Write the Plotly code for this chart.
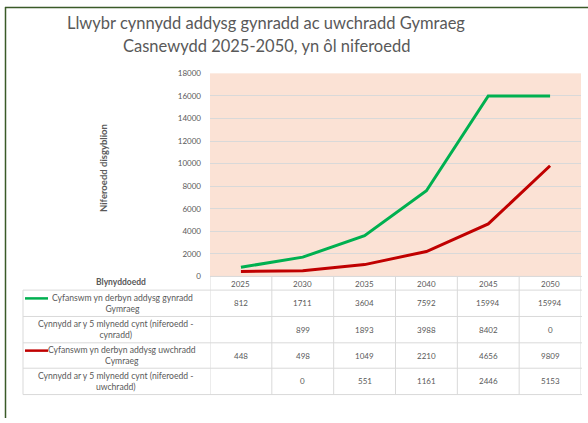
import plotly.graph_objects as go

# ---- data ----
years = ["2025", "2030", "2035", "2040", "2045", "2050"]
primary_total = [812, 1711, 3604, 7592, 15994, 15994]
primary_growth = [None, 899, 1893, 3988, 8402, 0]
secondary_total = [448, 498, 1049, 2210, 4656, 9809]
secondary_growth = [None, 0, 551, 1161, 2446, 5153]

row_labels = [
    "Cyfanswm yn derbyn addysg gynradd<br>Gymraeg",
    "Cynnydd ar y 5 mlynedd cynt (niferoedd -<br>cynradd)",
    "Cyfanswm yn derbyn addysg uwchradd<br>Cymraeg",
    "Cynnydd ar y 5 mlynedd cynt (niferoedd -<br>uwchradd)",
]
row_values = [primary_total, primary_growth, secondary_total, secondary_growth]
row_keys = ["#00B050", None, "#C00000", None]

title_lines = ["Llwybr cynnydd addysg gynradd ac uwchradd Gymraeg",
               "Casnewydd 2025-2050, yn ôl niferoedd"]
y_title = "Niferoedd disgyblion"
x_title = "Blynyddoedd"

W, H = 588, 423
def X(px):
    return px / W
def Y(py):
    return 1 - py / H

FONT = "Lato"
GREY = "#595959"
LINE = "#D9D9D9"

plot_left, plot_right, plot_top, plot_bottom = 210, 581, 70, 278
tbl_left = 23
header_bottom = 292
row_edges = [292, 319, 346, 372, 399]

fig = go.Figure()
fig.add_trace(go.Scatter(x=years, y=primary_total, mode="lines",
                         line=dict(color="#00B050", width=3), name=row_labels[0],
                         showlegend=False))
fig.add_trace(go.Scatter(x=years, y=secondary_total, mode="lines",
                         line=dict(color="#C00000", width=3), name=row_labels[2],
                         showlegend=False))

shapes = []
annotations = []

# table lines
shapes.append(dict(type="line", xref="paper", yref="paper",
                   x0=X(plot_left), x1=X(plot_right + 1), y0=Y(plot_bottom), y1=Y(plot_bottom),
                   line=dict(color=LINE, width=1)))
for ry in row_edges:
    shapes.append(dict(type="line", xref="paper", yref="paper",
                       x0=X(tbl_left), x1=X(plot_right + 1), y0=Y(ry), y1=Y(ry),
                       line=dict(color=LINE, width=1)))
shapes.append(dict(type="line", xref="paper", yref="paper",
                   x0=X(tbl_left), x1=X(tbl_left), y0=Y(header_bottom), y1=Y(row_edges[-1]),
                   line=dict(color=LINE, width=1)))
for i in range(len(years) + 1):
    shapes.append(dict(type="line", xref="x", yref="paper",
                       x0=i - 0.5, x1=i - 0.5, y0=Y(plot_bottom), y1=Y(row_edges[-1]),
                       line=dict(color=LINE, width=1)))

# header row
for i, yr in enumerate(years):
    annotations.append(dict(x=i, xref="x", y=Y((plot_bottom + header_bottom) / 2 + 1), yref="paper",
                            text=yr, showarrow=False, font=dict(family=FONT, size=8, color=GREY),
                            xanchor="center", yanchor="middle"))
annotations.append(dict(x=X(121), xref="paper", y=Y(284), yref="paper", text="<b>" + x_title + "</b>",
                        showarrow=False, font=dict(family=FONT, size=8.5, color=GREY),
                        xanchor="center", yanchor="middle"))

# body rows
for r, (lab, vals, key) in enumerate(zip(row_labels, row_values, row_keys)):
    yc = (row_edges[r] + row_edges[r + 1]) / 2
    annotations.append(dict(x=X(122 if key else 116), xref="paper", y=Y(yc), yref="paper",
                            text=lab, showarrow=False, align="center",
                            font=dict(family=FONT, size=8.6, color=GREY),
                            xanchor="center", yanchor="middle"))
    if key:
        shapes.append(dict(type="line", xref="paper", yref="paper",
                           x0=X(25), x1=X(48), y0=Y(yc - 5), y1=Y(yc - 5),
                           line=dict(color=key, width=2.5)))
    for i, v in enumerate(vals):
        if v is None:
            continue
        annotations.append(dict(x=i, xref="x", y=Y(yc), yref="paper", text=str(v),
                                showarrow=False, font=dict(family=FONT, size=8, color=GREY),
                                xanchor="center", yanchor="middle"))

# y-axis title
annotations.append(dict(x=X(103), xref="paper", y=Y(167), yref="paper", text="<b>" + y_title + "</b>",
                        textangle=-90, showarrow=False, font=dict(family=FONT, size=9.5, color=GREY),
                        xanchor="center", yanchor="middle"))
# title (two lines)
for ty, line_text in zip([18, 42], title_lines):
    annotations.append(dict(x=X(266), xref="paper", y=Y(ty), yref="paper", text=line_text,
                            showarrow=False, font=dict(family=FONT, size=16.5, color=GREY),
                            xanchor="center", yanchor="middle", align="center"))

# frame border
shapes.append(dict(type="line", xref="paper", yref="paper", x0=X(5), x1=1, y0=Y(2.5), y1=Y(2.5),
                   line=dict(color="#3A5A28", width=1.5)))
shapes.append(dict(type="line", xref="paper", yref="paper", x0=X(5.5), x1=X(5.5), y0=Y(2), y1=0,
                   line=dict(color="#3A5A28", width=1.5)))

fig.update_layout(
    width=W, height=H,
    margin=dict(l=0, r=0, t=0, b=0),
    paper_bgcolor="white",
    plot_bgcolor="#FBE2D5",
    shapes=shapes,
    annotations=annotations,
    showlegend=False,
    xaxis=dict(type="category", categoryorder="array", categoryarray=years,
               range=[-0.5, len(years) - 0.5], domain=[X(plot_left), X(plot_right)],
               showticklabels=False, showgrid=False, zeroline=False, ticks="", showline=False,
               fixedrange=True),
    yaxis=dict(range=[0, 18000], dtick=2000, tickformat="d", domain=[Y(plot_bottom), Y(plot_top)],
               showgrid=True, gridcolor=LINE, gridwidth=1, zeroline=False, ticks="",
               tickfont=dict(family=FONT, size=8, color=GREY), ticklabelstandoff=8,
               showline=False, fixedrange=True),
)

fig.write_html("out.html", config={"displayModeBar": False},
               post_script="document.body.style.margin='0px';")
